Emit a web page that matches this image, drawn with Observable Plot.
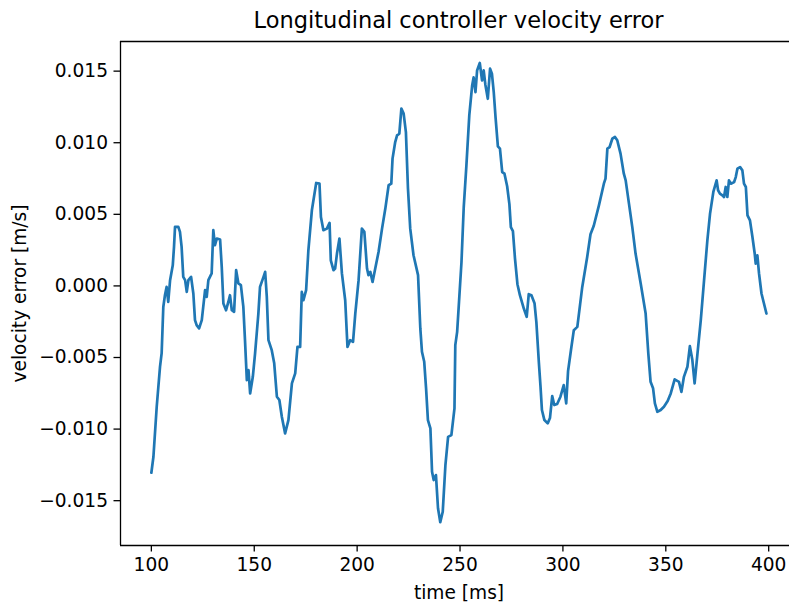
<!DOCTYPE html>
<html><head><meta charset="utf-8">
<script src="https://cdn.jsdelivr.net/npm/d3@7"></script>
<script src="https://cdn.jsdelivr.net/npm/@observablehq/plot@0.6"></script>
<style>
html,body{margin:0;padding:0;overflow:hidden;background:#fff;}
#wrap{position:relative;width:789px;height:607px;overflow:hidden;background:#fff;}
#title{position:absolute;left:120px;width:677px;top:7px;text-align:center;font-family:"DejaVu Sans";font-size:22.5px;line-height:26px;color:#000;z-index:2;white-space:nowrap;}
</style></head><body>
<div id="wrap"><div id="title">Longitudinal controller velocity error</div></div>
<script>
const timeMs = [100,101,102.6,104.2,105.0,105.8,106.6,107.4,108.2,109.1,
110.4,111.0,111.5,113.1,113.9,114.7,115.5,116.4,117.2,118.0,
119.3,120.4,121.2,122.0,123.2,124.5,126.1,126.9,127.7,129.3,
130.1,130.9,131.8,133.4,134.2,135.0,136.3,137.4,138.2,139.1,
140.2,141.2,142.3,143.5,144.7,145.5,146.4,147.2,148.0,149.3,
150.4,152.0,152.8,154.5,155.3,156.1,156.9,158.5,159.7,161.0,
162.2,163.4,165.0,166.6,168.3,169.9,171.0,172.3,173.1,173.9,
175.2,176.3,178.0,180.1,181.7,182.4,183.6,185.3,186.6,187.2,
188.5,189.3,190.2,191.4,192.6,194.2,195.3,196.6,198.0,199.1,
200.7,202.3,203.5,204.8,205.5,206.4,207.5,208.8,210.4,212.1,
213.7,215.3,216.6,217.2,218.5,219.4,220.5,221.5,222.6,223.7,
224.7,225.8,227.4,229.6,230.7,231.5,232.6,233.5,234.4,235.6,
236.4,237.2,238.3,239.3,240.4,241.6,242.9,244.2,245.8,247.3,
247.7,248.6,250.7,251.8,253.1,254.5,255.9,256.6,257.5,258.3,
259.6,260.7,261.5,262.3,263.5,264.6,265.5,266.4,267.3,268.4,
269.4,270.5,271.6,272.9,274.0,274.7,275.7,276.7,277.9,279.1,
281.0,282.4,283.4,284.7,286.2,287.1,288.3,289.1,289.8,291.0,
292.6,293.7,294.8,295.8,297.2,298.8,300.4,301.6,302.5,303.9,
305.3,307.0,309.4,311.8,313.4,315.0,317.5,319.9,320.7,321.6,
322.7,324.0,325.3,326.4,328.0,329.6,330.5,332.1,333.7,335.3,
337.8,340.2,341.5,342.6,343.8,344.7,345.9,347.5,349.1,350.9,
352.4,354.3,356.4,357.6,358.8,360.5,361.7,362.9,364.0,365.4,
367.0,368.6,370.2,371.5,373.1,374.7,375.4,376.3,377.5,378.3,
379.1,379.9,380.7,381.6,383.2,384.0,384.8,386.1,387.2,388.0,
388.9,389.7,390.9,392.1,393.2,393.7,394.5,395.3,396.5,397.7,
398.9];

const velocityError = [-0.01305,-0.01193,-0.00844,-0.00565,-0.00470,-0.00147,-0.00065,-0.00007,-0.00112,0.00040,
0.00144,0.00272,0.00412,0.00412,0.00377,0.00272,0.00063,0.00040,-0.00042,0.00040,
0.00063,-0.00053,-0.00239,-0.00274,-0.00297,-0.00239,-0.00030,-0.00077,0.00040,0.00087,
0.00389,0.00284,0.00331,0.00324,0.00133,-0.00123,-0.00170,-0.00112,-0.00065,-0.00170,
-0.00181,0.00110,0.00017,0.00005,-0.00147,-0.00379,-0.00658,-0.00588,-0.00751,-0.00635,
-0.00472,-0.00193,-0.00007,0.00063,0.00098,-0.00077,-0.00379,-0.00449,-0.00541,-0.00774,
-0.00797,-0.00914,-0.01030,-0.00937,-0.00681,-0.00611,-0.00426,-0.00426,-0.00042,-0.00100,
-0.00030,0.00249,0.00528,0.00719,0.00714,0.00481,0.00389,0.00400,0.00440,0.00179,
0.00110,0.00121,0.00226,0.00331,0.00087,-0.00100,-0.00426,-0.00379,-0.00391,-0.00193,
0.00040,0.00400,0.00377,0.00121,0.00075,0.00098,0.00028,0.00121,0.00237,0.00400,
0.00540,0.00703,0.00714,0.00889,0.01005,0.01051,0.01063,0.01238,0.01203,0.01074,
0.00680,0.00400,0.00214,0.00075,-0.00297,-0.00460,-0.00530,-0.00716,-0.00937,-0.00995,
-0.01298,-0.01356,-0.01321,-0.01553,-0.01650,-0.01577,-0.01251,-0.01054,-0.01042,-0.00855,
-0.00414,-0.00321,0.00165,0.00549,0.00842,0.01191,0.01400,0.01456,0.01354,0.01505,
0.01557,0.01435,0.01505,0.01407,0.01307,0.01517,0.01482,0.01351,0.01170,0.00975,
0.00959,0.00795,0.00784,0.00696,0.00570,0.00410,0.00382,0.00193,0.00012,-0.00065,
-0.00158,-0.00216,-0.00058,-0.00065,-0.00121,-0.00253,-0.00532,-0.00700,-0.00867,-0.00937,
-0.00960,-0.00923,-0.00770,-0.00832,-0.00825,-0.00774,-0.00693,-0.00820,-0.00595,-0.00449,
-0.00309,-0.00286,-0.00007,0.00202,0.00361,0.00420,0.00563,0.00714,0.00749,0.00959,
0.00970,0.01028,0.01040,0.01017,0.00924,0.00784,0.00737,0.00575,0.00412,0.00226,
0.00017,-0.00193,-0.00472,-0.00670,-0.00714,-0.00820,-0.00879,-0.00867,-0.00844,-0.00804,
-0.00751,-0.00653,-0.00670,-0.00740,-0.00635,-0.00565,-0.00421,-0.00518,-0.00681,-0.00472,
-0.00239,0.00040,0.00319,0.00505,0.00656,0.00737,0.00668,0.00645,0.00633,0.00621,
0.00691,0.00621,0.00737,0.00714,0.00726,0.00760,0.00819,0.00830,0.00807,0.00714,
0.00691,0.00493,0.00458,0.00342,0.00226,0.00156,0.00214,0.00087,-0.00053,-0.00123,
-0.00193];

const xTicks = [100, 150, 200, 250, 300, 350, 400];
const yTicks = [-0.015, -0.010, -0.005, 0.000, 0.005, 0.010, 0.015];
const xDomain = [85, 414];
const yDomain = [-0.01813, 0.01707];
const xLabel = "time [ms]";
const yLabel = "velocity error [m/s]";

const data = timeMs.map((t, i) => ({t, v: velocityError[i]}));

const chart = Plot.plot({
  width: 789,
  height: 607,
  marginLeft: 120,
  marginRight: 0,
  marginTop: 41,
  marginBottom: 62,
  style: {fontFamily: "DejaVu Sans", fontSize: "18.6px", color: "#000", background: "#fff", overflow: "hidden", maxWidth: "none"},
  x: {domain: xDomain, range: [120, 797], label: null},
  y: {domain: yDomain, label: null},
  marks: [
    Plot.axisX({ticks: xTicks, tickFormat: d3.format("d"), tickSize: 6.5, tickPadding: 6, strokeWidth: 1.3, label: null, fontSize: 18.6}),
    Plot.axisY({ticks: yTicks, tickFormat: d3.format(".3f"), tickSize: 6.5, tickPadding: 6, strokeWidth: 1.3, label: null, fontSize: 18.6}),
    Plot.line(data, {x: "t", y: "v", stroke: "#1f77b4", strokeWidth: 2.7, clip: true}),
    Plot.ruleY(yDomain, {stroke: "#000", strokeWidth: 1.3}),
    Plot.ruleX([xDomain[0]], {stroke: "#000", strokeWidth: 1.3}),
    Plot.text([xLabel], {text: d => d, frameAnchor: "bottom", dx: 4, dy: 48, textAnchor: "middle", lineAnchor: "middle", fontSize: 18.6, fill: "#000"}),
    Plot.text([yLabel], {text: d => d, frameAnchor: "left", dx: -100, rotate: -90, textAnchor: "middle", lineAnchor: "middle", fontSize: 18.6, fill: "#000"})
  ]
});
chart.style.position = "absolute";
chart.style.left = "0px";
chart.style.top = "0px";
chart.style.maxWidth = "none";
chart.style.overflow = "hidden";
document.getElementById("wrap").appendChild(chart);
</script>
</body></html>
